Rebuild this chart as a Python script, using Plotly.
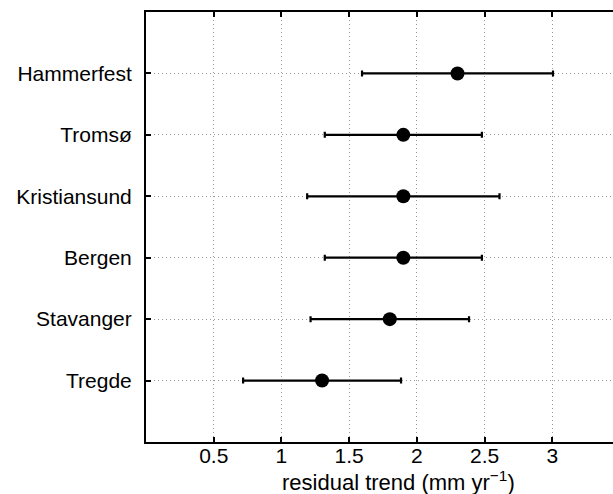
import plotly.graph_objects as go

stations = ["Hammerfest", "Tromsø", "Kristiansund", "Bergen", "Stavanger", "Tregde"]
trend = [2.30, 1.90, 1.90, 1.90, 1.80, 1.30]
err = [0.705, 0.58, 0.71, 0.58, 0.585, 0.583]
ypos = [6, 5, 4, 3, 2, 1]
xticks = [0.5, 1, 1.5, 2, 2.5, 3]
xticklabels = ["0.5", "1", "1.5", "2", "2.5", "3"]

FONT = "Liberation Sans, Arial, Helvetica, sans-serif"
GRID = dict(showgrid=True, gridcolor="#9a9a9a", gridwidth=1, griddash="1px,3px")

fig = go.Figure()
fig.add_trace(go.Scatter(
    x=trend, y=ypos, mode="markers",
    marker=dict(size=14, color="black"),
    error_x=dict(type="data", array=err, visible=True, color="black",
                 thickness=2.2, width=3),
    showlegend=False,
))

fig.update_layout(
    width=613, height=494,
    margin=dict(l=146, r=0, t=12, b=52),
    plot_bgcolor="white", paper_bgcolor="white",
    font=dict(family=FONT, size=21, color="black"),
    xaxis=dict(
        range=[0, 3.448], tickvals=xticks, ticktext=xticklabels,
        showline=True, linecolor="black", linewidth=2, mirror="allticks",
        ticks="inside", ticklen=5, tickwidth=1.5, tickcolor="black",
        zeroline=False, tickfont=dict(size=21), ticklabelstandoff=-6, **GRID,
    ),
    yaxis=dict(
        range=[0, 7], tickvals=ypos, ticktext=stations,
        showline=True, linecolor="black", linewidth=2,
        ticks="inside", ticklen=5, tickwidth=1.5, tickcolor="black",
        zeroline=False, ticklabelstandoff=8, tickfont=dict(size=21), **GRID,
    ),
)

fig.add_annotation(
    text="residual trend (mm yr<sup>−1</sup>)",
    xref="paper", yref="paper", x=(398 - 146) / (613 - 146), y=-0.127,
    xanchor="center", yanchor="bottom", showarrow=False,
    font=dict(family=FONT, size=22, color="black"),
)

fig.write_html("out.html")
